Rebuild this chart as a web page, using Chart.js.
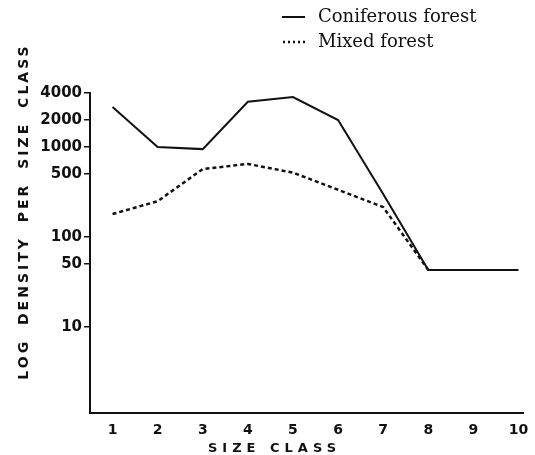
<!DOCTYPE html>
<html>
<head>
<meta charset="utf-8">
<script src="https://cdn.jsdelivr.net/npm/chart.js@4.4.1/dist/chart.umd.min.js"></script>
<style>
  html, body { margin: 0; padding: 0; background: #fff; }
  #wrap { width: 535px; height: 455px; }
</style>
</head>
<body>
<div id="wrap"><canvas id="chart"></canvas></div>
<script>
// values
const sizeClasses = [1, 2, 3, 4, 5, 6, 7, 8, 9, 10];
const coniferous = [2800, 1000, 950, 3200, 3600, 2000, 300, 43, 43, 43];
const mixed = [180, 250, 570, 650, 520, 335, 215, 43, null, null];
const yTicks = [10, 50, 100, 500, 1000, 2000, 4000];

const ink = '#111';

const toPoints = (vals) => sizeClasses.map((x, i) => ({ x, y: vals[i] }));

// legend + axis titles, drawn by hand to get the spaced lettering of the print
const decorations = {
    id: 'decorations',
    afterDraw(chart) {
        const { ctx } = chart;
        ctx.save();
        ctx.fillStyle = ink;
        ctx.strokeStyle = ink;

        // legend
        ctx.font = '18px "DejaVu Serif"';
        ctx.textBaseline = 'middle';
        ctx.lineWidth = 2;
        ctx.beginPath();
        ctx.moveTo(282, 17);
        ctx.lineTo(305, 17);
        ctx.stroke();
        ctx.fillText(chart.data.datasets[0].label, 318, 17);

        ctx.lineWidth = 2.5;
        ctx.setLineDash([2, 3]);
        ctx.beginPath();
        ctx.moveTo(283, 42);
        ctx.lineTo(305, 42);
        ctx.stroke();
        ctx.setLineDash([]);
        ctx.fillText(chart.data.datasets[1].label, 318, 42);

        // axis titles
        ctx.font = 'bold 13px "DejaVu Sans"';
        ctx.letterSpacing = '5px';
        const xTitle = 'SIZE CLASS';
        const xw = ctx.measureText(xTitle).width - 5;
        ctx.fillText(xTitle, 272 - xw / 2, 449);

        ctx.font = 'bold 14px "DejaVu Sans"';
        ctx.letterSpacing = '3px';
        ctx.wordSpacing = '6px';
        const yTitle = 'LOG DENSITY PER SIZE CLASS';
        const yw = ctx.measureText(yTitle).width - 3;
        ctx.translate(24, 213);
        ctx.rotate(-Math.PI / 2);
        ctx.fillText(yTitle, -yw / 2, 0);
        ctx.restore();
    }
};

new Chart(document.getElementById('chart'), {
    type: 'line',
    data: {
        datasets: [
            {
                label: 'Coniferous forest',
                data: toPoints(coniferous),
                borderColor: ink,
                borderWidth: 2,
                pointRadius: 0,
                tension: 0,
            },
            {
                label: 'Mixed forest',
                data: toPoints(mixed),
                borderColor: ink,
                borderWidth: 2.5,
                borderDash: [4, 3],
                pointRadius: 0,
                tension: 0,
                spanGaps: false,
            },
        ],
    },
    options: {
        responsive: true,
        maintainAspectRatio: false,
        animation: false,
        layout: { padding: { top: 93, right: 12, left: 0, bottom: 0 } },
        plugins: {
            legend: { display: false },
            tooltip: { enabled: false },
        },
        scales: {
            x: {
                type: 'linear',
                min: 0.5,
                max: 10.1,
                afterBuildTicks: (scale) => {
                    scale.ticks = sizeClasses.map((v) => ({ value: v }));
                },
                afterFit: (scale) => { scale.height = 42; },
                grid: { display: false },
                border: { display: true, color: ink, width: 2 },
                ticks: {
                    color: ink,
                    padding: 1,
                    maxRotation: 0,
                    autoSkip: false,
                    font: { family: 'DejaVu Sans', weight: 'bold', size: 14 },
                },
            },
            y: {
                type: 'logarithmic',
                min: 1.1,
                max: 4000,
                afterBuildTicks: (scale) => {
                    scale.ticks = yTicks.map((v) => ({ value: v }));
                },
                afterFit: (scale) => { scale.width = 90; },
                grid: {
                    drawOnChartArea: false,
                    color: ink,
                    lineWidth: 1.5,
                    tickLength: 6,
                },
                border: { display: true, color: ink, width: 2 },
                ticks: {
                    color: ink,
                    padding: 2,
                    autoSkip: false,
                    callback: (v) => String(v),
                    font: { family: 'DejaVu Sans', weight: 'bold', size: 15 },
                },
            },
        },
    },
    plugins: [decorations],
});
</script>
</body>
</html>
